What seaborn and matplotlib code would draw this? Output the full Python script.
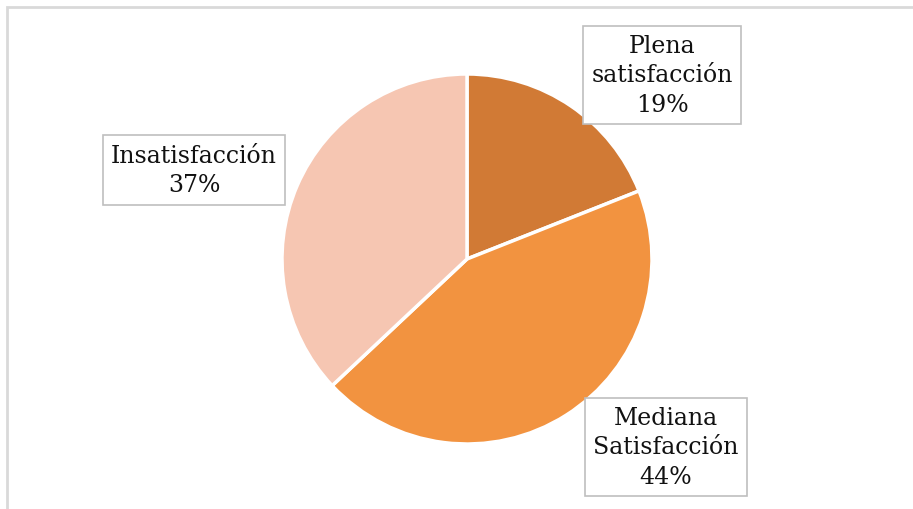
import matplotlib
matplotlib.use("Agg")
import matplotlib.pyplot as plt
import seaborn as sns
from matplotlib.patches import Rectangle

# Survey results: level of satisfaction
categories = ["Plena\nsatisfacción", "Mediana\nSatisfacción", "Insatisfacción"]
shares = [19, 44, 37]
colors = ["#D17A35", "#F29340", "#F6C6B2"]

sns.set_theme(style="white")
plt.rcParams["font.family"] = ["DejaVu Serif"]

W, H = 913, 510
fig = plt.figure(figsize=(W / 100, H / 100), dpi=100)
ax = fig.add_axes([0, 0, 1, 1])

# Outer chart frame (only top and left edges fall inside the image)
ax.add_patch(Rectangle((7, -20), W + 40, H - 8 + 20, fill=False,
                       edgecolor="#D9D9D9", lw=2, zorder=0))

ax.pie(shares, colors=colors, startangle=90, counterclock=False,
       center=(467, 250), radius=185, frame=True,
       wedgeprops=dict(edgecolor="white", linewidth=2.5))
ax.set_xlim(0, W)
ax.set_ylim(0, H)
ax.set_aspect("equal")
ax.axis("off")

label_pos = [(662, 434), (666, 62), (194, 339)]
for name, val, (x, y) in zip(categories, shares, label_pos):
    ax.text(x, y, f"{name}\n{val}%", ha="center", va="center", fontsize=17,
            color="#111111", linespacing=1.36,
            bbox=dict(boxstyle="square,pad=0.35", facecolor="white",
                      edgecolor="#BFBFBF", linewidth=1.2))

fig.savefig("out.png", dpi=100)
